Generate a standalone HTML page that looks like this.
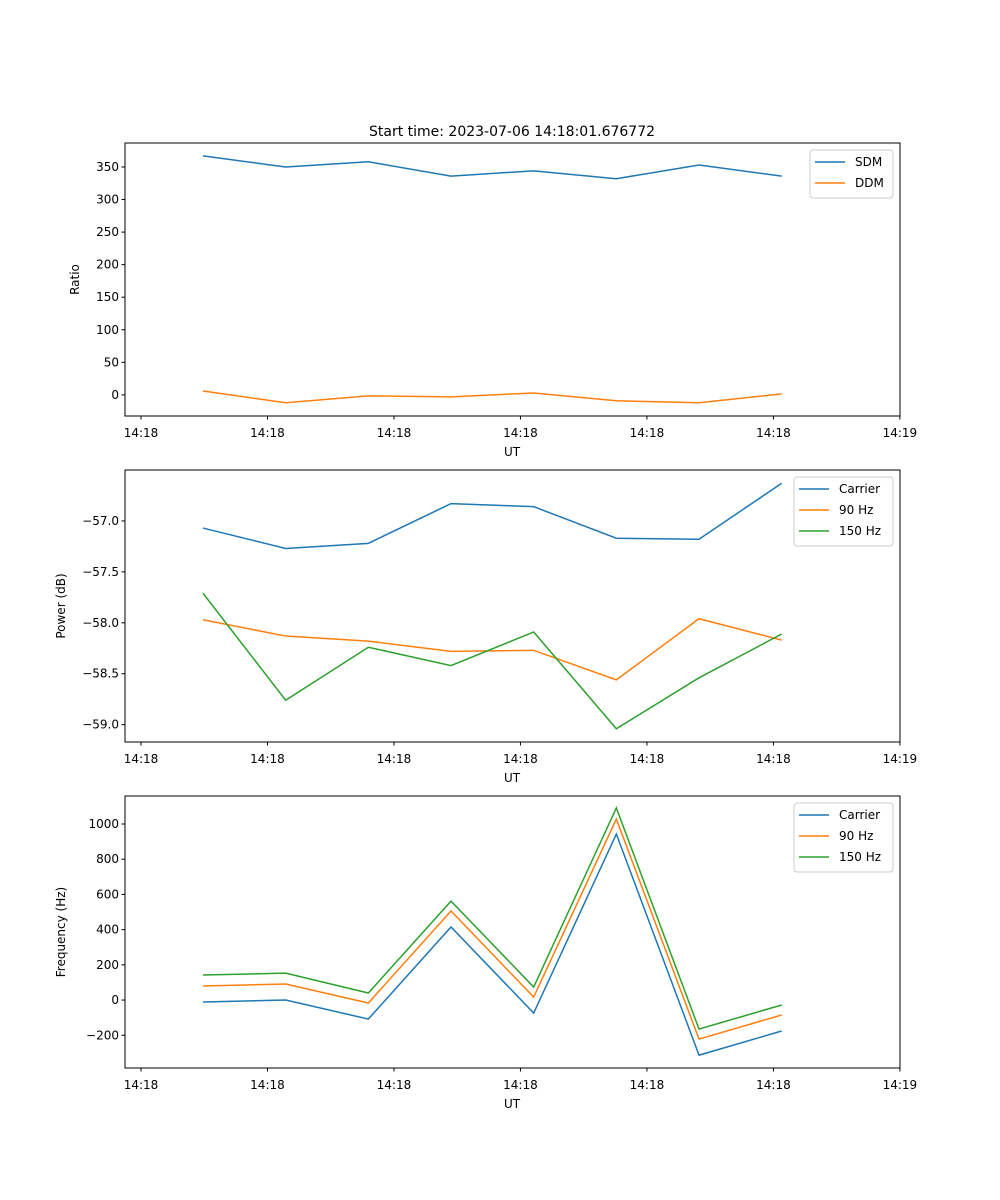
<!DOCTYPE html>
<html><head><meta charset="utf-8"><style>
body{margin:0;background:#fff}
svg{display:block;font-family:"DejaVu Sans","Liberation Sans",sans-serif;font-size:12px}
</style></head><body>
<svg id="fig" width="1000" height="1200"></svg>
<script>
const C=['#1f77b4','#ff7f0e','#2ca02c'];
const xTickLabels=['14:18','14:18','14:18','14:18','14:18','14:18','14:19'];
const sdm=[367,350,358,336,344,332,353,336];
const ddm=[6,-12,-1.5,-3,3,-9,-12,1.5];
const pCarrier=[-57.07,-57.27,-57.22,-56.83,-56.86,-57.17,-57.18,-56.63];
const p90=[-57.97,-58.13,-58.18,-58.28,-58.27,-58.56,-57.96,-58.17];
const p150=[-57.71,-58.76,-58.24,-58.42,-58.09,-59.04,-58.54,-58.11];
const fCarrier=[-11,0,-108,415,-74,943,-313,-176];
const f90=[80,91,-17,506,17,1028,-222,-85];
const f150=[142,153,40,562,74,1091,-165,-28];
const ticks1=[0,50,100,150,200,250,300,350];
const ticks2=[-57.0,-57.5,-58.0,-58.5,-59.0];
const ticks3=[-200,0,200,400,600,800,1000];
const NS='http://www.w3.org/2000/svg';
const svg=document.getElementById('fig');
function el(t,a,p){const e=document.createElementNS(NS,t);for(const k in a)e.setAttribute(k,a[k]);(p||svg).appendChild(e);return e;}
const L=125,R=900;
function xs(i){return 203+i*82.67;}
function panel(name,top,bot,ymin,ymax,yt,fmt,ylabel,series,names,legW){
  const g=el('g',{});
  
  
  const ys=v=>bot-(v-ymin)/(ymax-ymin)*(bot-top);
  series.forEach((s,k)=>{
    const p=el('polyline',{points:s.map((v,i)=>xs(i)+','+ys(v)).join(' '),fill:'none',stroke:C[k],'stroke-width':1.5},g);
    
    
  });
  const fr=el('rect',{x:L,y:top,width:R-L,height:bot-top,fill:'none',stroke:'#000','stroke-width':1},g);
  
  
  xTickLabels.forEach((t,k)=>{
    const x=xs(-0.75+k*1.53);
    el('line',{x1:x,x2:x,y1:bot,y2:bot+3.5,stroke:'#000'},g);
    const tx=el('text',{x:x,y:bot+21,'text-anchor':'middle'},g);tx.textContent=t;
    
    
  });
  yt.forEach(v=>{
    const y=ys(v);
    el('line',{x1:L-3.5,x2:L,y1:y,y2:y,stroke:'#000'},g);
    const tx=el('text',{x:L-6,y:y+4,'text-anchor':'end'},g);tx.textContent=fmt(v);
    
    
  });
  const xl=el('text',{x:512,y:bot+40,'text-anchor':'middle'},g);xl.textContent='UT';
  
  
  const yl=el('text',{x:0,y:0,'text-anchor':'middle',transform:`translate(${ylabel==='Ratio'?79:65},${(top+bot)/2}) rotate(-90)`},g);yl.textContent=ylabel;
  
  
  const lg=el('g',{},g);
  
  
  const lx0=893-legW;
  el('rect',{x:lx0,y:top+7,width:legW,height:names.length*21+6,rx:3,fill:'#fff',stroke:'#ccc'},lg);
  names.forEach((n,k)=>{
    const y=top+19+k*21;
    el('line',{x1:lx0+5,x2:lx0+35,y1:y,y2:y,stroke:C[k],'stroke-width':1.5},lg);
    const t=el('text',{x:lx0+45,y:y+4},lg);t.textContent=n;
    
    
  });
}
const t=el('text',{x:512,y:136,'text-anchor':'middle','font-size':'14px'});t.textContent='Start time: 2023-07-06 14:18:01.676772';


panel('ratio',143,416,-32.4,386.8,ticks1,v=>String(v),'Ratio',[sdm,ddm],['SDM','DDM'],83);
panel('power',470,742,-59.17,-56.5,ticks2,v=>'\u2212'+Math.abs(v).toFixed(1),'Power (dB)',[pCarrier,p90,p150],['Carrier','90 Hz','150 Hz'],99);
panel('frequency',796,1068,-386,1159,ticks3,v=>v<0?'\u2212'+Math.abs(v):String(v),'Frequency (Hz)',[fCarrier,f90,f150],['Carrier','90 Hz','150 Hz'],99);
</script>
</body></html>
